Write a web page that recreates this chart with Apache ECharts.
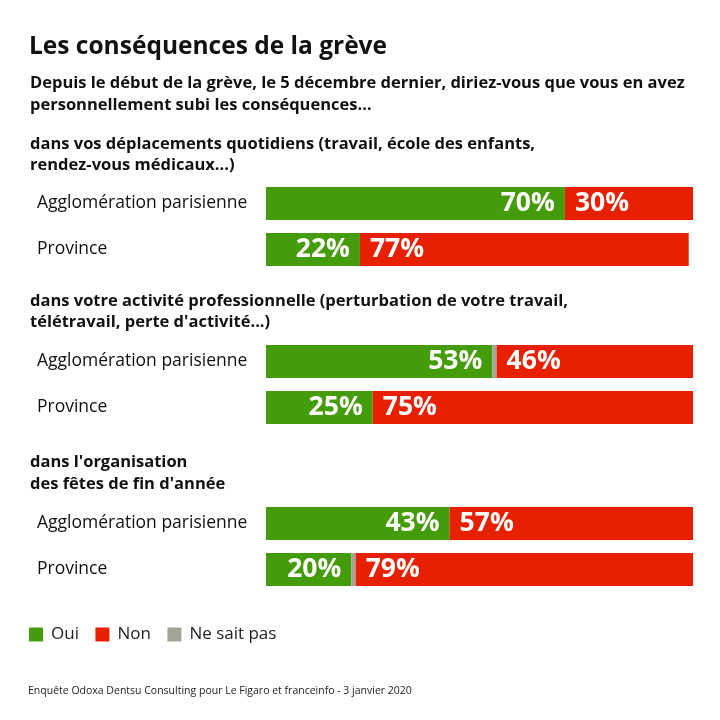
<!DOCTYPE html>
<html>
<head>
<meta charset="utf-8">
<script src="https://cdn.jsdelivr.net/npm/echarts@6/dist/echarts.min.js"></script>
<style>html,body{margin:0;padding:0;background:#fff}#c{width:720px;height:720px}</style>
</head>
<body>
<div id="c"></div>
<script>
var categories = ['Agglomération parisienne', 'Province'];
var sections = [
  'dans vos déplacements quotidiens (travail, école des enfants,\nrendez-vous médicaux...)',
  'dans votre activité professionnelle (perturbation de votre travail,\ntélétravail, perte d\'activité...)',
  'dans l\'organisation\ndes fêtes de fin d\'année'
];
var oui = [70, 22, 53, 25, 43, 20];
var nsp = [0, 0, 1, 0, 0, 1];
var non = [30, 77, 46, 75, 57, 79];
var seriesNames = ['Oui', 'Non', 'Ne sait pas'];
var colors = { 'Oui': '#459c0a', 'Non': '#e62000', 'Ne sait pas': '#a3a398' };

var FONT = '"Open Sans"';
var chart = echarts.init(document.getElementById('c'));
var grids = [], xAxes = [], yAxes = [], series = [];
var tops = [180.5, 338.5, 500.5];
for (var g = 0; g < 3; g++) {
  grids.push({ left: 266, width: 427, top: tops[g], height: 92 });
  xAxes.push({ type: 'value', gridIndex: g, min: 0, max: 100, show: false });
  yAxes.push({
    type: 'category', gridIndex: g, data: categories, inverse: true,
    axisLine: { show: false }, axisTick: { show: false },
    axisLabel: { align: 'left', margin: 229, fontFamily: FONT, fontSize: 17.5, color: '#111', padding: [3, 0, 0, 0] }
  });
  var parts = [
    ['Oui', oui, 'insideRight'],
    ['Ne sait pas', nsp, 'inside'],
    ['Non', non, 'insideLeft']
  ];
  parts.forEach(function (p) {
    series.push({
      name: p[0], type: 'bar', stack: 's' + g, xAxisIndex: g, yAxisIndex: g,
      barWidth: 33, itemStyle: { color: colors[p[0]] },
      data: p[1].slice(g * 2, g * 2 + 2),
      label: {
        show: p[0] !== 'Ne sait pas', position: p[2], distance: 10,
        formatter: function (d) { return d.value > 0 ? d.value + '%' : ''; },
        color: '#fff', fontFamily: FONT, fontWeight: 'bold', fontSize: 26.5
      }
    });
  });
}

var graphics = [
  { type: 'text', left: 29, top: 34.5, style: { text: 'Les conséquences de la grève', font: 'bold 24.5px ' + FONT, fill: '#111' } },
  { type: 'text', left: 30, top: 72.5, style: { text: 'Depuis le début de la grève, le 5 décembre dernier, diriez-vous que vous en avez\npersonnellement subi les conséquences…', font: 'bold 16.5px ' + FONT, fill: '#111', lineHeight: 22 } },
  { type: 'text', left: 28, top: 686, style: { text: 'Enquête Odoxa Dentsu Consulting pour Le Figaro et franceinfo - 3 janvier 2020', font: '10.5px ' + FONT, fill: '#222' } }
];
var secTops = [133.5, 290.5, 452];
sections.forEach(function (s, i) {
  graphics.push({ type: 'text', left: 30, top: secTops[i], style: { text: s, font: 'bold 16.5px ' + FONT, fill: '#111', lineHeight: 21.5 } });
});

chart.setOption({
  animation: false,
  grid: grids, xAxis: xAxes, yAxis: yAxes, series: series,
  legend: {
    data: seriesNames, left: 24, top: 621, icon: 'rect', itemWidth: 14, itemHeight: 14, itemGap: 16.5,
    textStyle: { fontFamily: FONT, fontSize: 17, color: '#222', padding: [0, 0, 0, 3] }, selectedMode: false
  },
  graphic: graphics
});
</script>
</body>
</html>
